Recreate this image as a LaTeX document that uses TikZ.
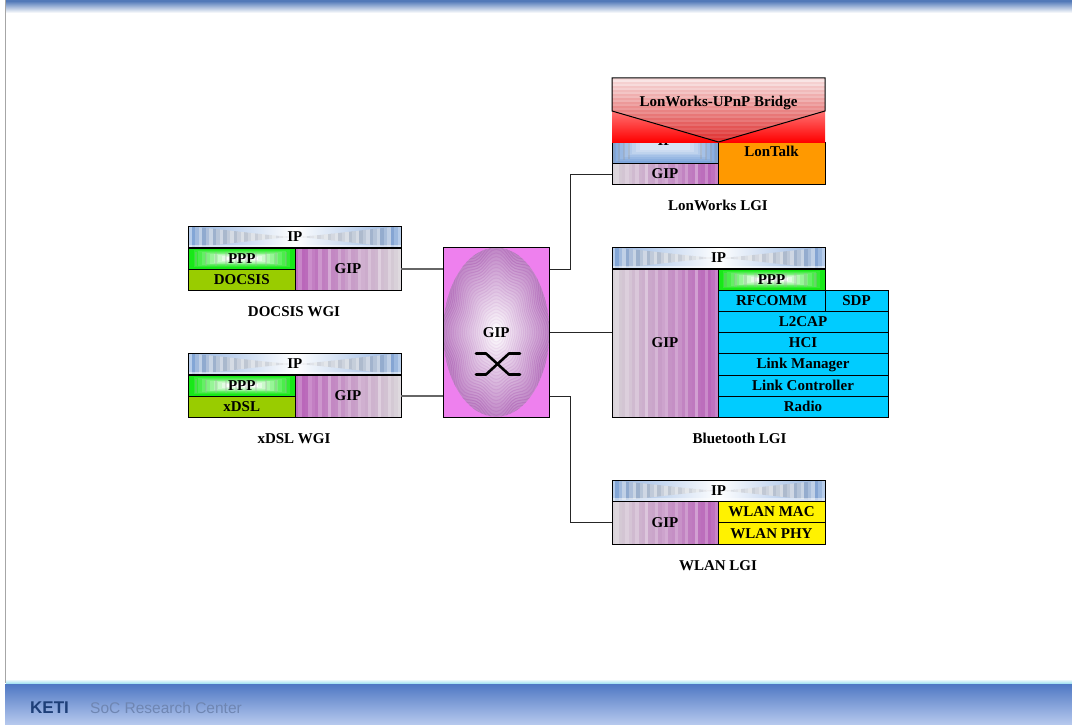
\documentclass[tikz,border=0pt]{standalone}
\usepackage{fontspec}
\setmainfont{Liberation Serif}
\setsansfont{Liberation Sans}
\definecolor{gipG}{HTML}{D6D0D6}
\definecolor{gipP}{HTML}{B860B8}
\definecolor{ipEdge}{HTML}{7FA6DC}
\definecolor{ipGrey}{HTML}{9AA4B4}
\definecolor{pppG}{HTML}{18E818}
\definecolor{cyanBox}{HTML}{00CCFF}
\definecolor{oliveBox}{HTML}{99CC00}
\definecolor{orangeBox}{HTML}{FF9900}
\definecolor{hubPink}{HTML}{EE80EE}
\definecolor{hubRing}{HTML}{B068B8}
\definecolor{bandBlue}{HTML}{4F78C4}
\definecolor{bandPale}{HTML}{B8CAEE}
\definecolor{topBlue}{HTML}{5279B8}
\definecolor{ketiBlue}{HTML}{1E3F78}
\definecolor{socGrey}{HTML}{6F86B2}
\definecolor{bridgeR}{HTML}{E02828}
\tikzset{
  cell/.style={draw=black,line width=1pt,inner sep=0pt,outer sep=0pt,
    font=\fontsize{15}{17}\selectfont\bfseries,text=black,align=center,
    text height=9.8pt,text depth=0pt},
  caption/.style={font=\fontsize{15}{17}\selectfont\bfseries,text=black,inner sep=0pt},
  link/.style={draw=black!60,line width=1.2pt},
  linkdark/.style={draw=black!85,line width=0.9pt},
  crossing/.style={draw=black,line width=2.6pt,line cap=round,line join=round}
}
% name x1 y1 x2 y2 style text
\newcommand\cellbox[7]{%
  \pgfmathsetmacro\cw{#4-(#2)}\pgfmathsetmacro\ch{#5-(#3)}%
  \node[cell,minimum width=\cw pt,minimum height=\ch pt,#6] (#1) at ({(#2+#4)/2},{(#3+#5)/2}) {#7};}
% x1 y1 x2 y2 dir (0 grey left, 1 purple left)
\newcommand\gipfill[5]{%
  \pgfmathtruncatemacro\nn{(#3-#1)/3.4}%
  \pgfmathsetmacro\sw{(#3-#1)/(\nn+1)}%
  \foreach \i in {0,...,\nn}{%
    \pgfmathsetmacro\pp{#5==0 ? 100*\i/\nn : 100-100*\i/\nn}%
    \pgfmathsetmacro\ll{100-22*(mod(\i,3)==1)-9*(mod(\i,5)==0)}%
    \pgfmathsetmacro\xa{#1+\i*\sw}%
    \pgfmathsetmacro\xb{min(#3,\xa+\sw+0.4)}%
    \fill[gipP!\pp!gipG!\ll!white] (\xa,#2) rectangle (\xb,#4);
  }}
\newcommand\ipfill[4]{%
  \pgfmathsetmacro\xm{(#1+#3)/2}\pgfmathsetmacro\ym{(#2+#4)/2}%
  \shade[left color=ipEdge!85!white,right color=ipEdge!85!white,middle color=white] (#1,#2) rectangle (#3,#4);
  \begin{scope}
    \clip (#1,#2) .. controls ({#1+30},{#2+2}) and ({\xm-25},{\ym-1}) .. (\xm,\ym)
      .. controls ({\xm+25},{\ym-1}) and ({#3-30},{#2+2}) .. (#3,#2)
      -- (#3,#4) .. controls ({#3-30},{#4-2}) and ({\xm+25},{\ym+1}) .. (\xm,\ym)
      .. controls ({\xm-25},{\ym+1}) and ({#1+30},{#4-2}) .. (#1,#4) -- cycle;
    \pgfmathtruncatemacro\nn{(#3-#1)/3.5}%
    \pgfmathsetmacro\sw{(#3-#1)/(\nn+1)}%
    \foreach \i in {0,...,\nn}{%
      \pgfmathsetmacro\xa{#1+\i*\sw}%
      \pgfmathsetmacro\dd{abs(\xa+\sw/2-\xm)/(\xm-#1)}%
      \pgfmathsetmacro\pp{min(100,(20+62*\dd)*(1+0.3*(mod(\i*5,3)-1)))}%
      \pgfmathsetmacro\qq{100*max(0,\dd*\dd*\dd)}%
      \fill[ipEdge!\qq!ipGrey!\pp!white] (\xa,#2) rectangle ({\xa+\sw+0.3},#4);
    }
  \end{scope}
  \shade[top color=white,bottom color=white,opacity=0.5] (#1,{#4-2.5}) rectangle (#3,#4);}
\newcommand\pppfill[4]{%
  \fill[pppG] (#1,#2) rectangle (#3,#4);
  \foreach \i in {1,...,9}{%
    \pgfmathsetmacro\pp{100-\i*11}%
    \fill[pppG!\pp!white] ({#1+\i*4+1},{#2+\i*0.9+1}) rectangle ({#3-\i*4-1},{#4-\i*0.9-1});
  }
  \pgfmathtruncatemacro\nn{(#3-#1-12)/5}%
  \foreach \i in {0,...,\nn}{%
    \pgfmathsetmacro\xa{#1+6+\i*5}%
    \ifodd\i\else\fill[black!35,opacity=0.3] (\xa,{#2+3.5}) rectangle ({\xa+2.5},{#4-3.5});\fi
  }}
\begin{document}
\begin{tikzpicture}[x=1pt,y=-1pt]
\useasboundingbox (0,0) rectangle (1072,725);
\fill[white] (0,0) rectangle (1072,725);
% page bands
\shade[top color=topBlue,bottom color=white] (5,1) rectangle (1072,13);
\fill[topBlue] (5,0) rectangle (1072,1.5);
\draw[black!35,line width=1pt] (5.5,0) -- (5.5,683);
\shade[top color=white,bottom color=bandBlue!50!cyan!50] (6,679) rectangle (1072,684);
\shade[top color=bandBlue,bottom color=bandPale] (5,684) rectangle (1072,725);
\node[font=\sffamily\bfseries\fontsize{17}{19}\selectfont,text=ketiBlue,inner sep=0pt,anchor=west] (keti) at (30,707.5) {KETI};
\node[font=\sffamily\fontsize{15.5}{18}\selectfont,text=socGrey,inner sep=0pt,anchor=west] (soc) at (90,707.5) {SoC Research Center};
% hub
\fill[hubPink] (443,247.5) rectangle (549.5,417);
\begin{scope}
  \clip (496.2,332.2) ellipse [x radius=53,y radius=84.5];
  \shade[inner color=white,outer color=hubRing!80!white] (496.2,332.2) ellipse [x radius=53,y radius=84.5];
  \foreach \r in {3,...,28}{%
    \pgfmathsetmacro\rr{\r/26}%
    \pgfmathsetmacro\pp{min(90,8+85*\rr)}%
    \pgfmathsetmacro\amp{0.07*\rr}%
    \draw[hubRing!\pp!white,line width=1pt]
      plot[domain=0:360,samples=73,variable=\tht]
      ({496.2+53*\rr*(1+\amp*cos(8*\tht))*cos(\tht)},{332.2+84.5*\rr*(1+\amp*cos(8*\tht))*sin(\tht)}) -- cycle;
  }
\end{scope}
\cellbox{hub}{443}{247.5}{549.5}{417}{}{GIP}
\draw[crossing] (476,353.5) -- (486,353.5) -- (509,374.5) -- (520,374.5);
\draw[crossing] (476,374.5) -- (486,374.5) -- (509,353.5) -- (520,353.5);
% DOCSIS WGI
\ipfill{188.5}{226.5}{401}{247.5}
\cellbox{dIP}{188.5}{226.5}{401}{247.5}{}{IP}
\pppfill{188.5}{248}{295}{269}
\cellbox{dPPP}{188.5}{248}{295}{269}{}{PPP}
\cellbox{dMAC}{188.5}{269}{295}{290}{fill=oliveBox}{DOCSIS}
\gipfill{295}{248}{401}{290}{1}
\cellbox{dGIP}{295}{248}{401}{290}{}{GIP}
\node[caption] (dCap) at (294,311.5) {DOCSIS WGI};
% xDSL WGI
\ipfill{188.5}{353.5}{401}{374.5}
\cellbox{xIP}{188.5}{353.5}{401}{374.5}{}{IP}
\pppfill{188.5}{375}{295}{396}
\cellbox{xPPP}{188.5}{375}{295}{396}{}{PPP}
\cellbox{xMAC}{188.5}{396}{295}{417}{fill=oliveBox}{xDSL}
\gipfill{295}{375}{401}{417}{1}
\cellbox{xGIP}{295}{375}{401}{417}{}{GIP}
\node[caption] (xCap) at (294,438.5) {xDSL WGI};
% LonWorks LGI
\fill[ipEdge] (612,142) rectangle (718,163);
\foreach \i in {1,...,7}{%
  \pgfmathsetmacro\pp{100-\i*10}%
  \fill[ipEdge!\pp!white] ({612+\i*4},{142}) rectangle ({718-\i*4},{163-\i*1.9});
}
\foreach \i in {0,...,3}{%
  \fill[black!40,opacity=0.3] ({613+\i*5},142) rectangle ({615+\i*5},{163-\i*1.5});
  \fill[black!40,opacity=0.3] ({715-\i*5},142) rectangle ({717-\i*5},{163-\i*1.5});
}
\cellbox{lIP}{612}{142}{718}{163}{text depth=24pt}{IP}
\gipfill{612}{163.5}{718}{184.5}{0}
\cellbox{lGIP}{612}{163.5}{718}{184.5}{}{GIP}
\cellbox{lTalk}{718}{142}{825}{184.5}{fill=orangeBox,text depth=24pt}{LonTalk}
% bridge
\shade[top color=red!55!white,bottom color=red] (612,111) rectangle (825,142);
\begin{scope}
  \clip (612,78) -- (825,78) -- (825,111) -- (718.5,142) -- (612,111) -- cycle;
  \foreach \i in {0,...,31}{%
    \pgfmathsetmacro\ya{78+\i*2}%
    \pgfmathsetmacro\pp{18+80*\i/31-8*mod(\i,2)}%
    \fill[bridgeR!\pp!gray!15!bridgeR!\pp!white] (612,\ya) rectangle (825,{\ya+2.3});
  }
\end{scope}
\cellbox{bridge}{612}{78}{825}{142}{draw=none,text depth=17.4pt}{LonWorks-UPnP Bridge}
\draw[line width=1pt,line join=miter] (bridge.west|-0,111) -- (bridge.north west) -- (bridge.north east) -- (bridge.east|-0,111) -- (bridge.south) -- cycle;
\node[caption] (lCap) at (718,205.5) {LonWorks LGI};
% Bluetooth LGI
\ipfill{612}{247.5}{825}{268.5}
\cellbox{bIP}{612}{247.5}{825}{268.5}{}{IP}
\gipfill{612}{269}{718}{417}{0}
\cellbox{bGIP}{612}{269}{718}{417}{}{GIP}
\pppfill{718}{269}{825}{290}
\cellbox{bPPP}{718}{269}{825}{290}{}{PPP}
\cellbox{bRF}{718}{290}{825}{311}{fill=cyanBox}{RFCOMM}
\cellbox{bSDP}{825}{290}{888}{311}{fill=cyanBox}{SDP}
\cellbox{bL2}{718}{311}{888}{332}{fill=cyanBox}{L2CAP}
\cellbox{bHCI}{718}{332}{888}{353}{fill=cyanBox}{HCI}
\cellbox{bLM}{718}{353}{888}{375}{fill=cyanBox}{Link Manager}
\cellbox{bLC}{718}{375}{888}{396}{fill=cyanBox}{Link Controller}
\cellbox{bRad}{718}{396}{888}{417}{fill=cyanBox}{Radio}
\node[caption] (bCap) at (739.5,438.5) {Bluetooth LGI};
% WLAN LGI
\ipfill{612}{480.5}{825}{501}
\cellbox{wIP}{612}{480.5}{825}{501}{}{IP}
\gipfill{612}{501.5}{718}{544}{0}
\cellbox{wGIP}{612}{501.5}{718}{544}{}{GIP}
\cellbox{wMAC}{718}{501.5}{825}{522.5}{fill=yellow}{WLAN MAC}
\cellbox{wPHY}{718}{522.5}{825}{544}{fill=yellow}{WLAN PHY}
\node[caption] (wCap) at (718,565.5) {WLAN LGI};
% connectors
\draw[link] (dGIP.east) -- (hub.west|-dGIP.east);
\draw[link] (xGIP.east) -- (hub.west|-xGIP.east);
\draw[linkdark] (hub.east|-dGIP.east) -| ([xshift=21pt]hub.east|-lGIP.west) -- (lGIP.west);
\draw[linkdark] (hub.east) -- (bGIP.west|-hub.east);
\draw[linkdark] (hub.east|-xGIP.east) -| ([xshift=21pt]hub.east|-wGIP.west) -- (wGIP.west);
\end{tikzpicture}
\end{document}
